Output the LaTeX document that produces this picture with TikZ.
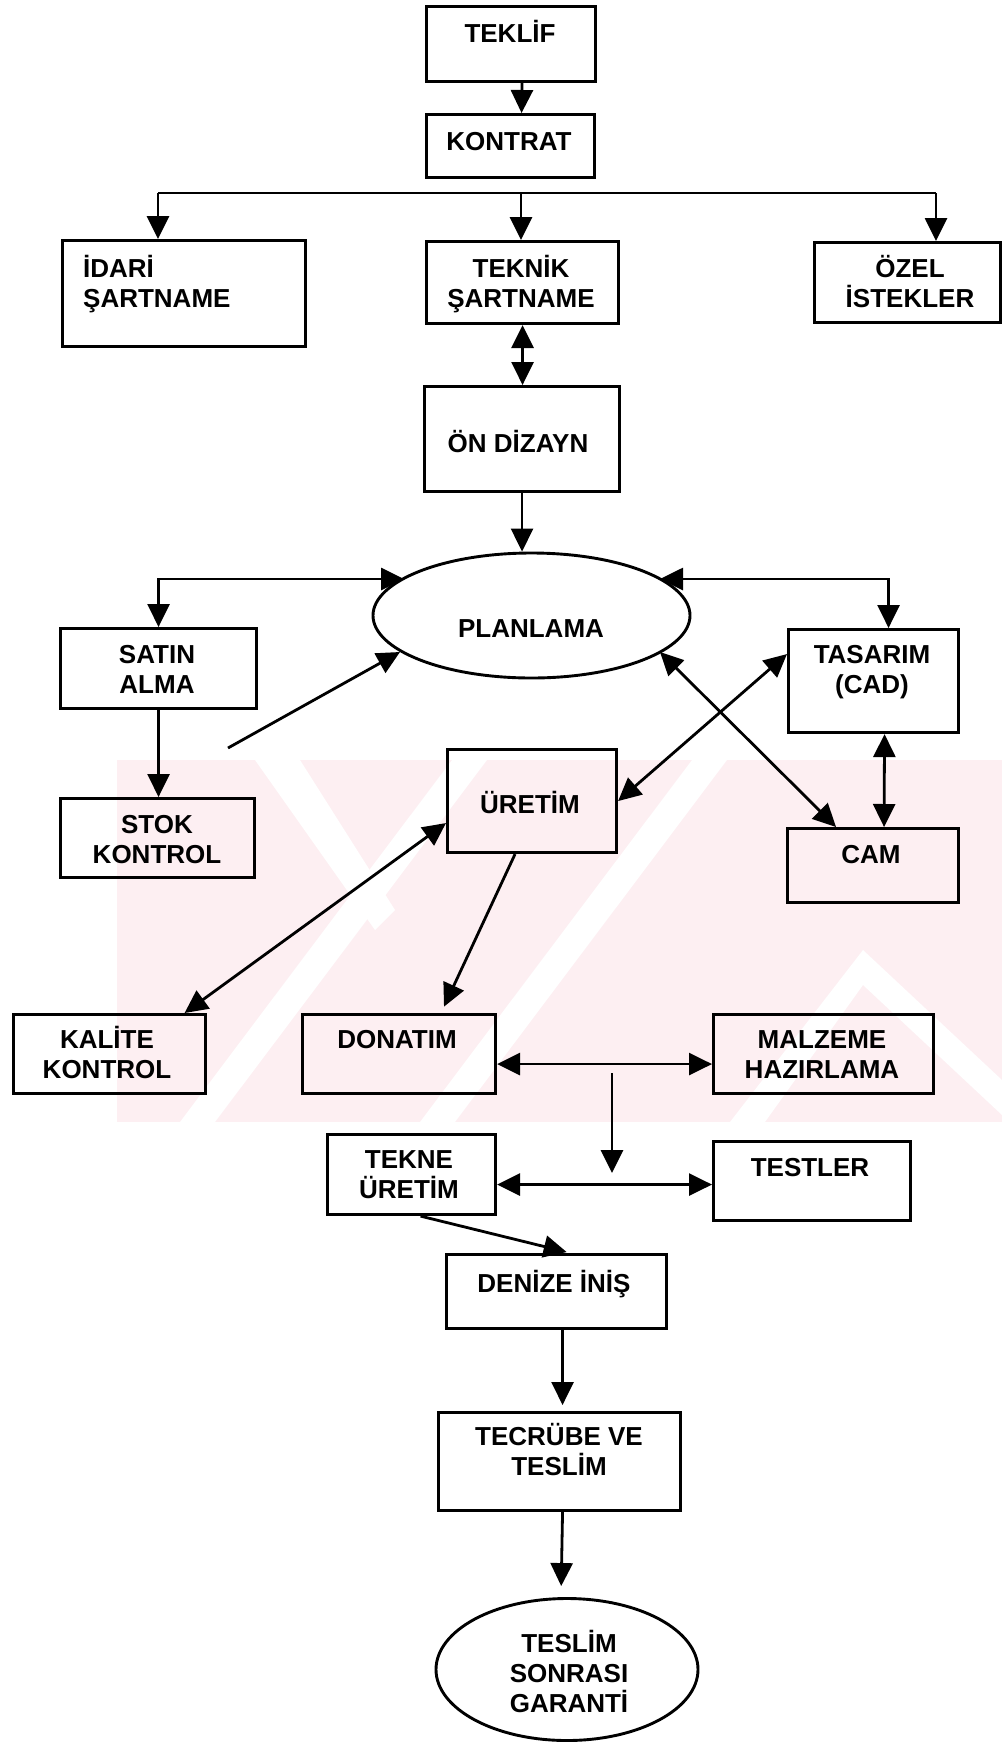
\documentclass[tikz,border=0pt]{standalone}
\usepackage{fontspec}
\setmainfont{Liberation Sans}
\usetikzlibrary{arrows.meta,shapes.geometric,calc}

\definecolor{wmpink}{RGB}{253,239,242}

\begin{document}
\begin{tikzpicture}[x=1pt,y=-1pt,
  box/.style={draw,line width=3.1pt,anchor=north west,inner sep=0pt},
  oval/.style={draw,ellipse,line width=2.9pt,inner sep=0pt},
  lbl/.style={anchor=base,align=center,inner sep=0pt,
    font=\bfseries\fontsize{26}{30}\selectfont},
  tip/.tip={Triangle[length=23pt,width=22pt]},
  arr/.style={line width=2.8pt,-tip},
  darr/.style={line width=2.8pt,tip-tip}]

\useasboundingbox (0,0) rectangle (1002,1743);

% faint background band
\begin{scope}
  \clip (117,760) rectangle (1002,1122);
  \fill[wmpink] (117,760) rectangle (1002,1122);
  \fill[white] (255,760) -- (300,760) -- (395,910) -- (375,930) -- cycle;
  \fill[white] (180,1122) -- (215,1122) -- (487,760) -- (452,760) -- cycle;
  \fill[white] (420,1122) -- (455,1122) -- (727,760) -- (692,760) -- cycle;
  \fill[white] (730,1122) -- (863,950) -- (1002,1080) -- (1002,1115)
               -- (863,985) -- (765,1122) -- cycle;
\end{scope}

% boxes
\node[box,minimum width=169pt,minimum height=75pt]  (teklif)   at (425,5)    {};
\node[box,minimum width=168pt,minimum height=63pt]  (kontrat)  at (425,113)  {};
\node[box,minimum width=243pt,minimum height=106pt] (idari)    at (61,239)   {};
\node[box,minimum width=192pt,minimum height=82pt]  (teknik)   at (425,240)  {};
\node[box,minimum width=186pt,minimum height=80pt]  (ozel)     at (813,241)  {};
\node[box,minimum width=195pt,minimum height=105pt] (ondizayn) at (423,385)  {};
\node[oval,minimum width=317pt,minimum height=125pt] (planlama) at (531.5,615.5) {};
\node[box,minimum width=196pt,minimum height=80pt]  (satin)    at (59,627)   {};
\node[box,minimum width=170pt,minimum height=103pt] (tasarim)  at (787,628)  {};
\node[box,minimum width=194pt,minimum height=79pt]  (stok)     at (59,797)   {};
\node[box,minimum width=169pt,minimum height=103pt] (uretim)   at (446,748)  {};
\node[box,minimum width=171pt,minimum height=74pt]  (cam)      at (786,827)  {};
\node[box,minimum width=192pt,minimum height=79pt]  (kalite)   at (12,1013)  {};
\node[box,minimum width=193pt,minimum height=79pt]  (donatim)  at (301,1013) {};
\node[box,minimum width=220pt,minimum height=79pt]  (malzeme)  at (712,1013) {};
\node[box,minimum width=168pt,minimum height=80pt]  (tekne)    at (326,1133) {};
\node[box,minimum width=197pt,minimum height=79pt]  (testler)  at (712,1140) {};
\node[box,minimum width=220pt,minimum height=74pt]  (denize)   at (445,1253) {};
\node[box,minimum width=242pt,minimum height=98pt]  (tecrube)  at (437,1411) {};
\node[oval,minimum width=262pt,minimum height=142pt] (garanti) at (567,1669.5) {};

% labels (a node's base is the baseline of its last line)
\node[lbl] (teklif-t)   at (510,42)   {TEKLİF};
\node[lbl] (kontrat-t)  at (509,150)  {KONTRAT};
\node[lbl,anchor=base west,align=left] (idari-t) at (83,307) {İDARİ\\ŞARTNAME};
\node[lbl] (teknik-t)   at (521,307)  {TEKNİK\\ŞARTNAME};
\node[lbl] (ozel-t)     at (910,307)  {ÖZEL\\İSTEKLER};
\node[lbl] (ondizayn-t) at (518,452)  {ÖN DİZAYN};
\node[lbl] (planlama-t) at (531,637)  {PLANLAMA};
\node[lbl] (satin-t)    at (157,693)  {SATIN\\ALMA};
\node[lbl] (tasarim-t)  at (872,693)  {TASARIM\\(CAD)};
\node[lbl] (stok-t)     at (157,863)  {STOK\\KONTROL};
\node[lbl] (uretim-t)   at (530,813)  {ÜRETİM};
\node[lbl] (cam-t)      at (871,863)  {CAM};
\node[lbl] (kalite-t)   at (107,1078) {KALİTE\\KONTROL};
\node[lbl] (donatim-t)  at (397,1048) {DONATIM};
\node[lbl] (malzeme-t)  at (822,1078) {MALZEME\\HAZIRLAMA};
\node[lbl] (tekne-t)    at (409,1198) {TEKNE\\ÜRETİM};
\node[lbl] (testler-t)  at (810,1176) {TESTLER};
\node[lbl] (denize-t)   at (554,1292) {DENİZE İNİŞ};
\node[lbl] (tecrube-t)  at (559,1475) {TECRÜBE VE\\TESLİM};
\node[lbl] (garanti-t)  at (569,1712) {TESLİM\\SONRASI\\GARANTİ};

% free ends and points on the PLANLAMA border
\coordinate (brl) at (158,193);
\coordinate (brm) at (521,193);
\coordinate (brr) at (936,193);
\coordinate (plnw) at (404,579);
\coordinate (plne) at (660,579);
\coordinate (plsw) at (400,652);
\coordinate (plse) at (660,652);
\coordinate (free) at (228,748);
\coordinate (midtop) at (612,1073);
\coordinate (midbot) at (612,1173);
\coordinate (tkr) at ([yshift=-10pt]tekne.east);

% connectors
\draw[arr] ([xshift=11pt]teklif.south) -- ([xshift=11pt]kontrat.north);
\draw[line width=2.8pt] (brl) -- (brr);
\draw[arr] (brl) -- (brl |- idari.north);
\draw[arr] (brm) -- (brm |- teknik.north);
\draw[arr] (brr) -- (brr |- ozel.north);
\draw[darr] (teknik.south) -- (teknik.south |- ondizayn.north);
\draw[arr] (ondizayn.south) -- (ondizayn.south |- planlama.north);
\draw[darr] (satin.north) |- (plnw);
\draw[darr] ([xshift=15pt]tasarim.north) |- (plne);
\draw[arr] (free) -- (plsw);
\draw[arr] (satin.south) -- (satin.south |- stok.north);
\draw[darr] (uretim.east) -- ([yshift=27pt]tasarim.west);
\draw[darr] (plse) -- ([xshift=-37pt]cam.north);
\draw[darr] ([xshift=11pt]tasarim.south) -- ([xshift=11pt]cam.north);
\draw[darr] ([yshift=-22pt]uretim.west) -- ([xshift=75pt]kalite.north);
\draw[arr,shorten >=7pt] ([xshift=-17pt]uretim.south) -- ([xshift=42pt]donatim.north);
\draw[darr] ([yshift=-10pt]donatim.east) -- ([yshift=-10pt]malzeme.west);
\draw[arr] (midtop) -- (midbot);
\draw[darr] (tkr) -- (tkr -| testler.west);
\draw[arr,shorten >=4pt] ([xshift=9pt]tekne.south) -- ([xshift=14pt]denize.north);
\draw[arr,shorten >=6pt] ([xshift=6pt]denize.south) -- ([xshift=3pt]tecrube.north);
\draw[arr,shorten >=11pt] ([xshift=3pt]tecrube.south) -- ([xshift=-6pt]garanti.north);

\end{tikzpicture}
\end{document}
